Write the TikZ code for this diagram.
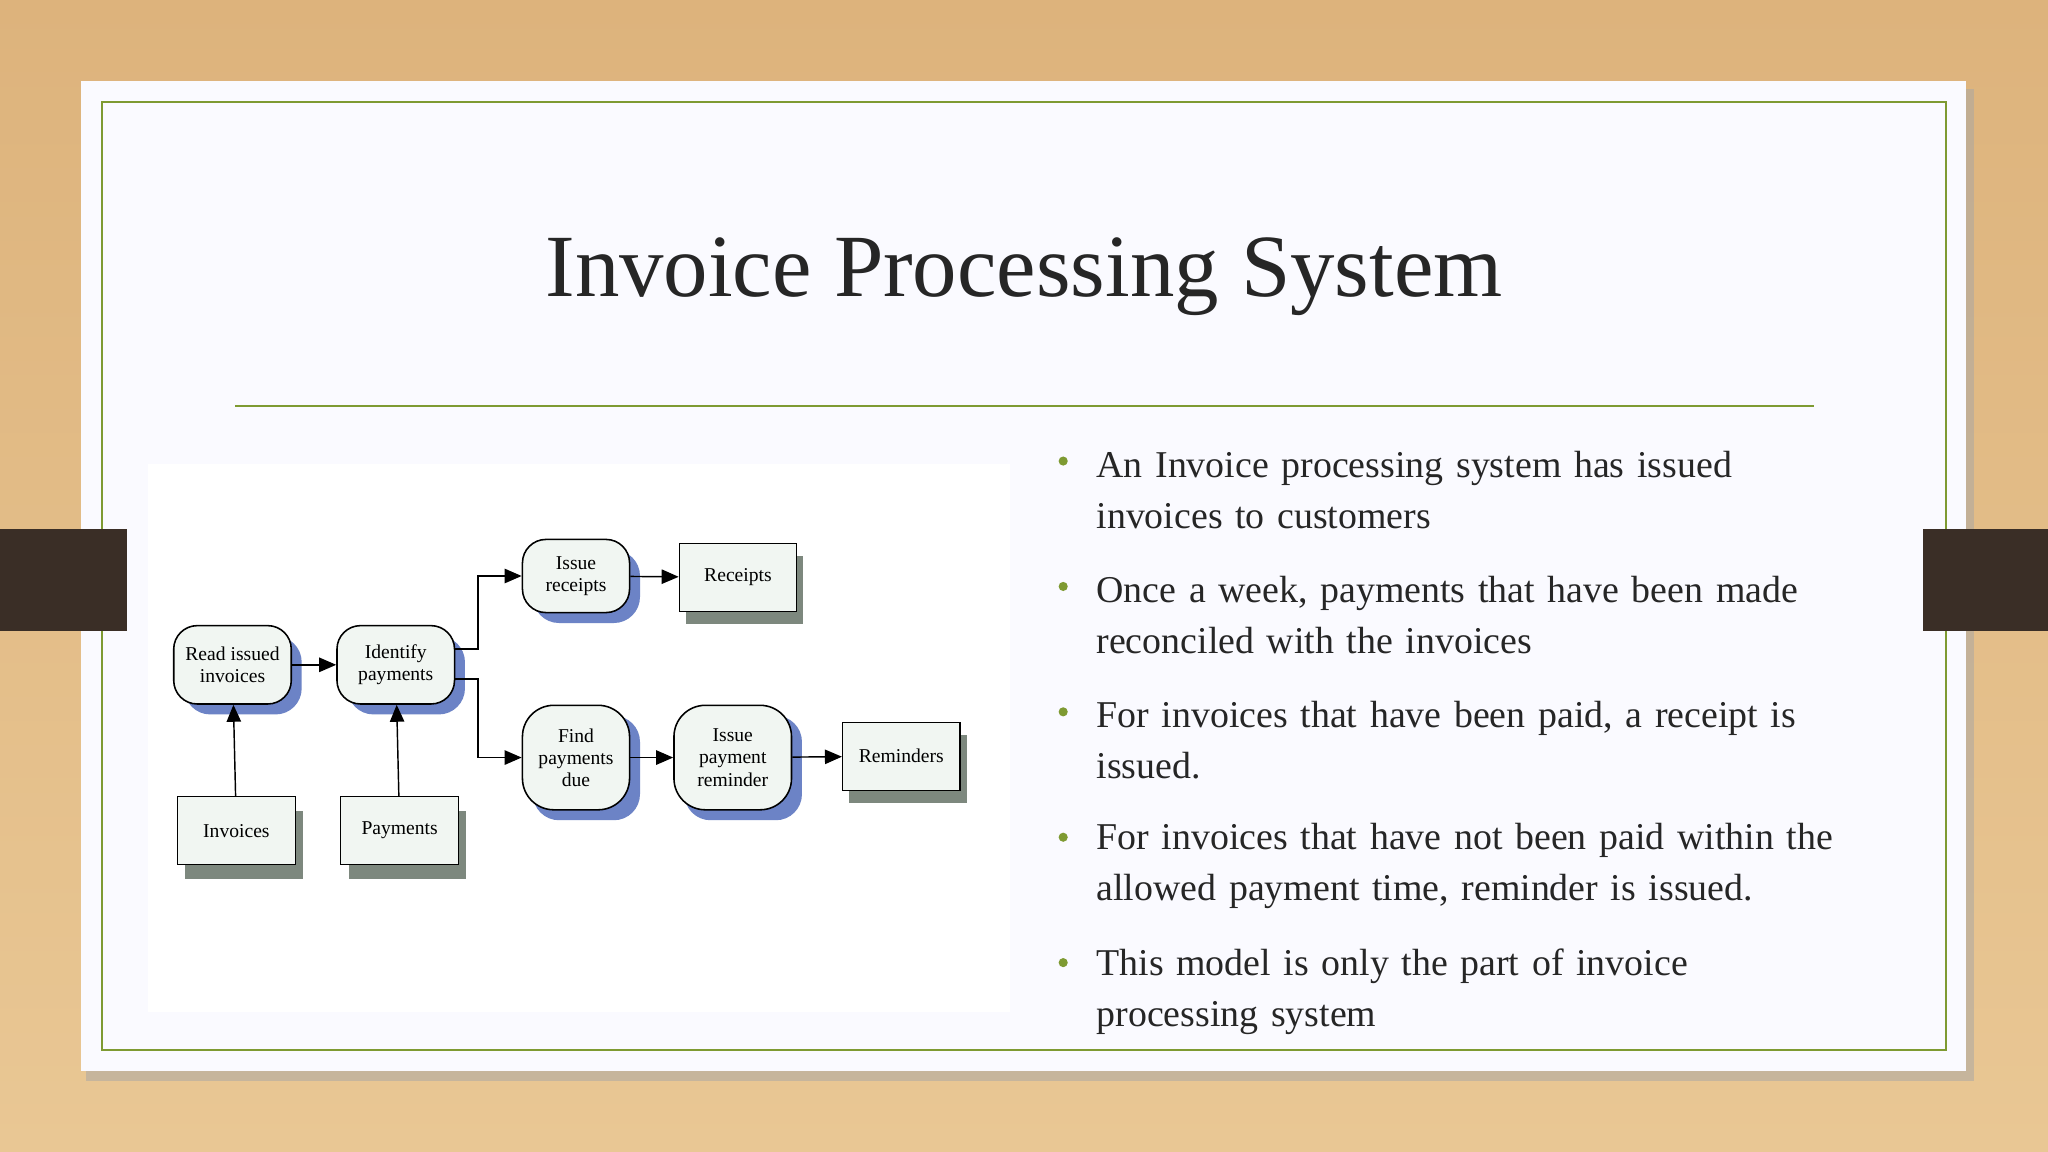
\documentclass[tikz,border=0pt]{standalone}
\usepackage{fontspec}
\setmainfont{Liberation Serif}
\usetikzlibrary{arrows.meta,positioning}
\definecolor{wood}{HTML}{E9C794}
\definecolor{woodd}{HTML}{DDB37C}
\definecolor{olive}{HTML}{7E9A32}
\definecolor{tab}{HTML}{3A2E26}
\definecolor{shblue}{HTML}{6C83C6}
\definecolor{shgrey}{HTML}{7D887E}
\definecolor{nodefill}{HTML}{F1F6F2}
\tikzset{
  proc/.style={draw=black,line width=1.2pt,fill=nodefill,rounded corners=18pt,minimum width=#1,align=center,font=\fontsize{15}{17}\selectfont,inner sep=2pt},
  store/.style={draw=black,line width=0.8pt,fill=nodefill,minimum width=90pt,minimum height=52pt,font=\fontsize{15}{17}\selectfont},
  flow/.style={-{Triangle[length=13pt,width=11pt]},line width=1.1pt},
  bul/.style={anchor=west,font=\fontsize{29}{39}\selectfont,text=black!85,align=left,text width=590pt},
}
\begin{document}
\begin{tikzpicture}[x=1pt,y=-1pt]
\useasboundingbox (0,0) rectangle (1568,882);
\shade[top color=woodd,bottom color=wood] (0,0) rectangle (1568,882);
% slide
\fill[black!35,opacity=0.5] (66,68) rectangle (1511,828);
\fill[white!98!blue] (62,62) rectangle (1505,820);
\draw[olive,line width=1.5pt] (78,78) rectangle (1490,804);
\fill[tab] (0,405) rectangle (97,483);
\fill[tab] (1472,405) rectangle (1568,483);
\node[font=\fontsize{68}{72}\selectfont,text=black!85] (title) at (784,212) {Invoice Processing System};
\draw[olive,line width=1.2pt] (180,311) -- (1389,311);
% diagram area
\fill[white] (113,355) rectangle (773,775);
% process nodes with shadows
\foreach \x/\y/\w/\h in {178/509/90/60, 303/509/90/60, 441/441/82/56, 441/580/82/80, 561/580/90/80}{
  \fill[shblue,rounded corners=20pt] (\x-\w/2+8,\y-\h/2+8) rectangle (\x+\w/2+8,\y+\h/2+8);
}
\node[proc=90pt,minimum height=60pt] (read) at (178,509) {Read issued\\invoices};
\node[proc=90pt,minimum height=60pt] (ident) at (303,509) {Identify\\payments};
\node[proc=82pt,minimum height=56pt] (isr) at (441,441) {Issue\\receipts};
\node[proc=82pt,minimum height=80pt,rounded corners=24pt] (find) at (441,580) {Find\\payments\\due};
\node[proc=90pt,minimum height=80pt,rounded corners=24pt] (isrem) at (561,580) {Issue\\payment\\reminder};
% stores with shadows
\foreach \x/\y in {570/452, 695/589, 187/647, 312/647}{
  \fill[shgrey] (\x-45,\y-26) rectangle (\x+45,\y+26);
}
\node[store] (rec) at (565,442) {Receipts};
\node[store] (rem) at (690,579) {Reminders};
\node[store] (inv) at (181,636) {Invoices};
\node[store] (pay) at (306,636) {Payments};
% connectors
\draw[flow] (inv) -- (read);
\draw[flow] (pay) -- (ident);
\draw[flow] (read) -- (ident);
\coordinate (j1) at (366,497);
\coordinate (j2) at (366,520);
\draw[flow] (ident.east |- j1) -- (j1) |- (isr.west);
\draw[flow] (ident.east |- j2) -- (j2) |- (find.west);
\draw[flow] (isr) -- (rec);
\draw[flow] (find) -- (isrem);
\draw[flow] (isrem) -- (rem);
% bullets
\foreach \y/\t in {375/{An Invoice processing system has issued\\invoices to customers},
  471/{Once a week, payments that have been made\\reconciled with the invoices},
  567/{For invoices that have been paid, a receipt is\\issued.},
  663/{For invoices that have not been paid within the\\allowed payment time, reminder is issued.},
  759/{This model is only the part of invoice\\processing system}}{
  \node[bul] at (836,\y) {\t};
  \fill[olive] (814,\y-22) circle (3.5pt);
}
\end{tikzpicture}
\end{document}
